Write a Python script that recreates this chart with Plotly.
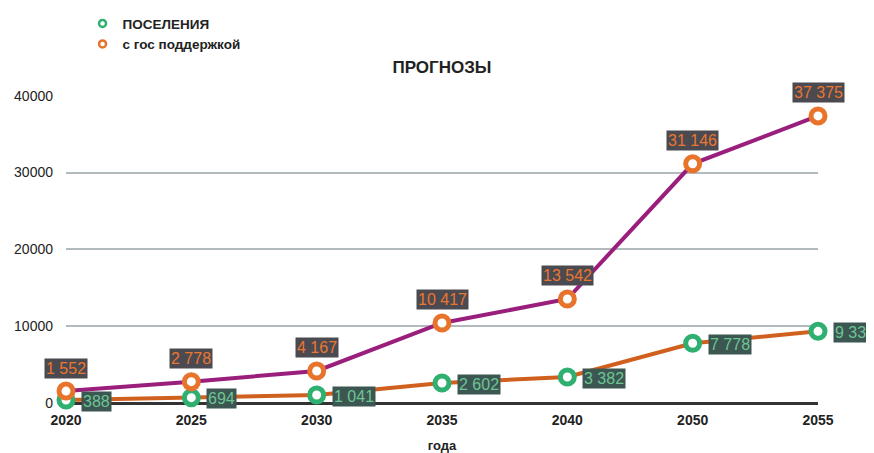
import plotly.graph_objects as go

years = ["2020", "2025", "2030", "2035", "2040", "2050", "2055"]
poseleniya = [388, 694, 1041, 2602, 3382, 7778, 9333]
gos = [1552, 2778, 4167, 10417, 13542, 31146, 37375]
name_pos = "ПОСЕЛЕНИЯ"
name_gos = "с гос поддержкой"
title = "ПРОГНОЗЫ"
x_title = "года"
y_ticks = [0, 10000, 20000, 30000, 40000]

GREEN = "#2fb070"
ORANGE = "#e8742c"
PURPLE = "#9a1e7c"
LINE_OR = "#d0601e"
FONT = "Liberation Sans, Arial"

def fmt(v):
    return f"{v:,}".replace(",", " ")

fig = go.Figure()

fig.add_trace(go.Scatter(
    x=years, y=poseleniya, mode="lines+markers", showlegend=False,
    line=dict(color=LINE_OR, width=4),
    marker=dict(symbol="circle", size=14, color="white", line=dict(color=GREEN, width=5)),
    cliponaxis=False, hoverinfo="skip"))
fig.add_trace(go.Scatter(
    x=years, y=gos, mode="lines+markers", showlegend=False,
    line=dict(color=PURPLE, width=4),
    marker=dict(symbol="circle", size=14, color="white", line=dict(color=ORANGE, width=5)),
    cliponaxis=False, hoverinfo="skip"))

fig.add_trace(go.Scatter(x=[None], y=[None], mode="markers", name=f"<b>{name_pos}</b>",
    marker=dict(symbol="circle", size=7, color="white", line=dict(color=GREEN, width=2.5))))
fig.add_trace(go.Scatter(x=[None], y=[None], mode="markers", name=f"<b>{name_gos}</b>",
    marker=dict(symbol="circle", size=7, color="white", line=dict(color=ORANGE, width=2.5))))

annotations = []
for i, yv in enumerate(gos):
    annotations.append(dict(
        x=i, y=yv, xref="x", yref="y", text=fmt(yv), showarrow=False,
        yshift=23, bgcolor="#4a4a50", borderpad=1,
        font=dict(family=FONT, size=16, color="#ec7630")))
for i, yv in enumerate(poseleniya):
    annotations.append(dict(
        x=i, y=yv, xref="x", yref="y", text=fmt(yv), showarrow=False,
        xanchor="left", xshift=15, yshift=-1, bgcolor="#3c5651", borderpad=1,
        font=dict(family=FONT, size=16, color="#6cc594")))

fig.update_layout(
    width=866, height=445,
    margin=dict(l=58, r=56, t=87, b=50, autoexpand=False),
    paper_bgcolor="white", plot_bgcolor="white",
    font=dict(family=FONT, color="#222"),
    title=dict(text=f"<b>{title}</b>", x=(442 - 8) / 866, xanchor="center",
               y=1 - (67 - 8) / 445, yanchor="middle",
               font=dict(size=17, color="#222")),
    legend=dict(x=0.022, y=1.282, xanchor="left", yanchor="top",
                font=dict(size=13.5, color="#222"), itemsizing="trace", itemwidth=30,
                tracegroupgap=0, bgcolor="rgba(0,0,0,0)"),
    annotations=annotations,
    xaxis=dict(type="category", range=[0, 6], showgrid=False, zeroline=False,
               showline=False, ticks="", tickfont=dict(size=14, color="#222"),
               tickprefix="<b>", ticksuffix="</b>", ticklabelstandoff=7,
               title=dict(text=f"<b>{x_title}</b>", font=dict(size=13, color="#222"), standoff=13)),
    yaxis=dict(range=[0, 40100], tickvals=y_ticks, tickformat="d", showgrid=True, gridcolor="#b3babd",
               gridwidth=1.5, zeroline=True, zerolinecolor="#333", zerolinewidth=3,
               showline=False, ticks="", tickfont=dict(size=14, color="#222"),
               tickprefix="<b>", ticksuffix="</b>", ticklabelstandoff=12),
)

fig.write_html("out.html")
